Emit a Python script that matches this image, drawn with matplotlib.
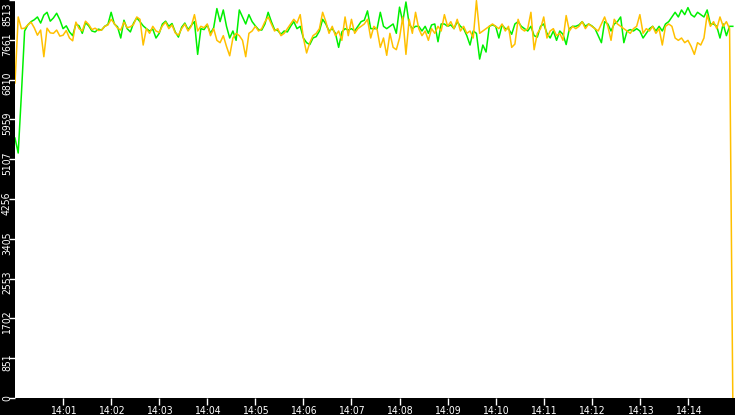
import matplotlib
matplotlib.use("Agg")
import matplotlib.pyplot as plt
import matplotlib.transforms as mtransforms
import numpy as np

# sample spacing (seconds) of the series, starting at 14:00:00
step_s = 4

yellow = [
    6740, 8150, 7900, 7910, 7980, 8040, 7920, 7760, 7870, 7300, 7910, 7810, 7800, 7870, 7740, 7760,
    7860, 7700, 7640, 8040, 7900, 7850, 8060, 7990, 7880, 7910, 7860, 7870, 7950, 7980, 8100, 8010,
    7910, 7870, 8040, 7920, 7940, 7990,
    8150, 8100, 7550, 7900, 7800, 7950, 7850, 7820, 7960, 8040, 7900, 7980, 7810, 7760, 7900, 8000,
    7850, 7950, 8200, 7850, 7950, 7920, 8000, 7750, 7900, 7650, 7600, 7750, 7520, 7320, 7700, 7800,
    7750, 7650, 7300, 7800, 7850,
    7950, 7850, 7900, 8050, 8150, 8000, 7850, 7900, 7750, 7800, 7900, 8000, 8100, 8020, 8200, 7700,
    7380, 7600, 7750, 7800, 7900, 8250, 8050, 7800, 7950, 7750, 7850, 7650, 8150, 7750, 8100, 7800,
    7900, 7950, 8000, 8100, 7700, 7950,
    7880, 7500, 7700, 7330, 7800, 7500, 7450, 7700, 8150, 7350, 8100, 7800, 8250, 7900, 7750, 7850,
    7650, 7900, 7800, 7950, 7850, 8200, 7950, 8050, 7900, 8100, 7850, 7950, 7800, 7850, 7700, 8500,
    7800, 7850, 7900, 7950, 8000,
    7950, 7900, 8000, 7850, 7950, 7500, 7570, 8100, 7900, 7850, 7900, 8250, 7450, 7800, 7900, 8150,
    7700, 7850, 7900, 7750, 7800, 7650, 8180, 7850, 7950, 7900, 7950, 8050, 7900, 8000, 7950, 7900,
    7850, 8000, 8150, 7950, 7650, 8100,
    8000, 7950, 7900, 7850, 7800, 7900, 7950, 8200, 7800, 7900, 7850, 7950, 7800, 7900, 7550, 7950,
    8000, 7950, 7700, 7650, 7700, 7600, 7650, 7520, 7350, 7600, 7550, 7700, 8200, 7950, 8050, 7900,
    8150, 7950, 8050, 7900, 0,
]

green = [
    5560, 5240, 6500, 7850, 7980, 8050, 8090, 8150, 8020, 8190, 8250, 8060, 8130, 8230, 8090, 7900,
    7960, 7830, 7750, 8000, 7960, 7800, 8030, 7960, 7850, 7830, 7890, 7870, 7950, 7990, 8250, 8000,
    7940, 7700, 8080, 7900, 7830, 8020,
    8130, 8050, 7960, 7900, 7850, 7890, 7700, 7800, 8000, 8060, 7950, 8010, 7830, 7720, 7930, 8020,
    7880, 7970, 8050, 7350, 7900, 7880, 7980, 7800, 7920, 8330, 8050, 8300, 7950, 7700, 7850, 7650,
    8300, 8150, 8000, 8200, 8050,
    7960, 7880, 7870, 8000, 8250, 8050, 7880, 7860, 7780, 7850, 7830, 7950, 8050, 7900, 7950, 7700,
    7600, 7560, 7700, 7730, 7850, 8100, 8000, 7850, 7900, 7800, 7500, 7830, 7900, 7870, 7900, 7850,
    7950, 8050, 8080, 8280, 7900, 7900,
    7900, 8250, 7950, 7900, 7950, 8000, 7800, 8360, 8050, 8470, 8000, 7900, 7950, 7950, 7850, 7950,
    7800, 7980, 8000, 7620, 8000, 8000, 7950, 7980, 7900, 8050, 7950, 7900, 7750, 7550, 7850, 7800,
    7250, 7550, 7400, 7950, 7980,
    7950, 7700, 7980, 7900, 7900, 7780, 8000, 8050, 7950, 7900, 7850, 7950, 7750, 7720, 7950, 8000,
    7800, 7700, 7850, 7650, 7850, 7780, 7560, 7900, 7950, 7950, 7980, 8050, 7950, 8000, 7960, 7900,
    7750, 7600, 8050, 8000, 7850, 8000,
    8050, 8150, 7600, 7850, 7880, 7850, 7900, 7850, 7700, 7800, 7900, 7950, 7850, 7950, 7850, 8000,
    8050, 8150, 8250, 8150, 8300, 8200, 8350, 8200, 8150, 8250, 8200, 8150, 8300, 8000, 8000, 7950,
    7700, 8000, 7750, 7950, 7950,
]

y_ticks = [0, 851, 1702, 2553, 3405, 4256, 5107, 5959, 6810, 7661, 8513]
x_tick_labels = ["14:01", "14:02", "14:03", "14:04", "14:05", "14:06", "14:07",
                 "14:08", "14:09", "14:10", "14:11", "14:12", "14:13", "14:14"]

W, H = 735, 415
fig = plt.figure(figsize=(W / 100, H / 100), dpi=100, facecolor="black")
ax = fig.add_axes([15 / W, 17 / H, 720 / W, 398 / H])
ax.set_facecolor("white")

t_y = np.arange(len(yellow)) * step_s
t_g = np.arange(len(green)) * step_s
ax.plot(t_g, green, color="#00f000", lw=1.1)
ax.plot(t_y, yellow, color="#ffc000", lw=1.1)

ax.set_xlim(0, 898.75)
ax.set_ylim(0, 8513)
for s in ax.spines.values():
    s.set_visible(False)

font = dict(family="DejaVu Sans", stretch="condensed", size=7.5, color="white")

ax.set_yticks(y_ticks)
ax.set_yticklabels([])
ax.tick_params(axis="y", direction="out", length=4, width=1, colors="white", pad=0)
n = len(y_ticks)
for k, v in enumerate(y_ticks):
    if k == n - 1:
        va, dy = "top", -2
    elif k == 0:
        va, dy = "center", 0
    else:
        va, dy = "center", -4
    tr = ax.get_yaxis_transform() + mtransforms.ScaledTranslation(-8 / 100, dy / 100, fig.dpi_scale_trans)
    ax.text(0, v, str(v), rotation=90, ha="center", va=va, transform=tr,
            clip_on=False, **font)

x_ticks = [60 * (k + 1) for k in range(len(x_tick_labels))]
ax.set_xticks(x_ticks)
ax.set_xticklabels(x_tick_labels, **font)
ax.tick_params(axis="x", direction="out", length=5, width=1, colors="white", pad=1)

fig.savefig("out.png", dpi=100, facecolor="black")
